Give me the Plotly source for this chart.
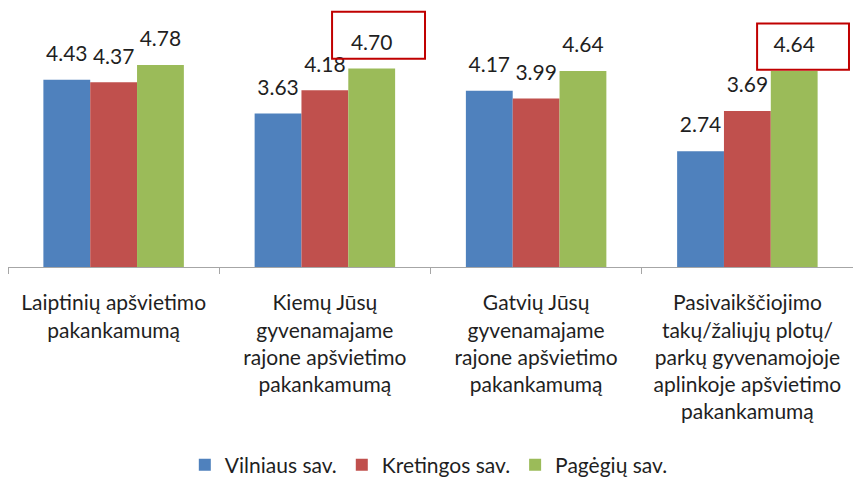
import plotly.graph_objects as go

categories = [
    "Laiptinių apšvietimo<br>pakankamumą",
    "Kiemų Jūsų<br>gyvenamajame<br>rajone apšvietimo<br>pakankamumą",
    "Gatvių Jūsų<br>gyvenamajame<br>rajone apšvietimo<br>pakankamumą",
    "Pasivaikščiojimo<br>takų/žaliųjų plotų/<br>parkų gyvenamojoje<br>aplinkoje apšvietimo<br>pakankamumą",
]
series_names = ["Vilniaus sav.", "Kretingos sav.", "Pagėgių sav."]
vilnius = [4.43, 3.63, 4.17, 2.74]
kretinga = [4.37, 4.18, 3.99, 3.69]
pagegiai = [4.78, 4.70, 4.64, 4.64]
colors = ["#4F81BD", "#C0504D", "#9BBB59"]

FONT = "Lato"
TXT = "#1f1f1f"

fig = go.Figure()
for i, (name, vals) in enumerate(zip(series_names, [vilnius, kretinga, pagegiai])):
    fig.add_trace(go.Bar(
        x=categories, y=vals, name=name, marker_color=colors[i],
        marker_line_width=0, offsetgroup=str(i), hoverinfo="skip",
    ))
for i, vals in enumerate([vilnius, kretinga, pagegiai]):
    fig.add_trace(go.Scatter(
        x=categories, y=vals, mode="markers+text",
        text=[f"{v:.2f}" for v in vals], textposition="top center",
        textfont=dict(family=FONT, size=21, color=TXT),
        marker=dict(size=20, opacity=0, color=colors[i]),
        offsetgroup=str(i), showlegend=False, hoverinfo="skip", cliponaxis=False,
    ))

# red highlight boxes around two Pagėgių labels
boxes = [(1.034, 1.474, 4.93, 6.04), (3.046, 3.481, 4.67, 5.76)]
for x0, x1, y0, y1 in boxes:
    fig.add_shape(type="rect", xref="x", yref="y", x0=x0, x1=x1, y0=y0, y1=y1,
                  line=dict(color="#C00000", width=2), fillcolor="rgba(0,0,0,0)")

fig.update_layout(
    width=853, height=478,
    margin=dict(l=8, r=0, t=5, b=211),
    paper_bgcolor="white", plot_bgcolor="white",
    barmode="group", bargap=0.335, bargroupgap=0,
    scattermode="group", scattergap=0.335,
    font=dict(family=FONT, size=20, color=TXT),
    showlegend=True,
    legend=dict(orientation="h", x=0.498, xanchor="center",
                yref="container", y=0.027, yanchor="middle",
                font=dict(family=FONT, size=21, color=TXT), traceorder="normal"),
    xaxis=dict(showline=True, linecolor="#A6A6A6", linewidth=1, ticks="outside",
               tickson="boundaries", ticklen=6, tickcolor="#A6A6A6", showgrid=False,
               tickfont=dict(family=FONT, size=21, color=TXT), ticklabelstandoff=17,
               automargin=False),
    yaxis=dict(visible=False, range=[0, 6.2], showgrid=False, zeroline=False,
               automargin=False),
)

fig.write_html("out.html", config={"displayModeBar": False},
               post_script="document.body.style.margin='0';")
